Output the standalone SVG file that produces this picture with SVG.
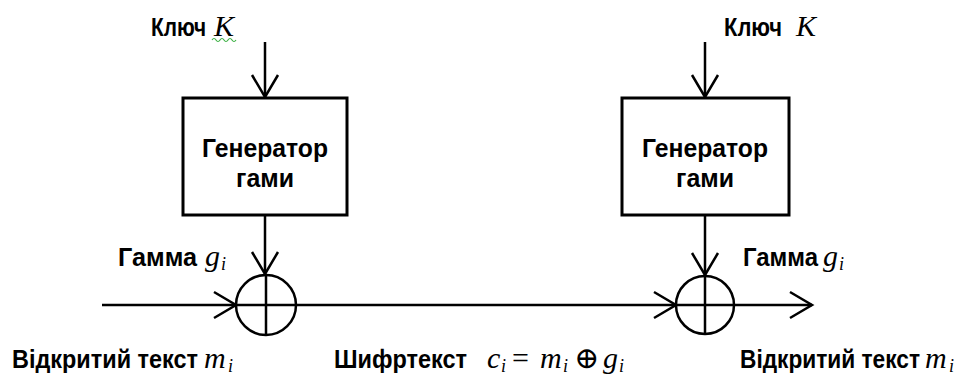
<svg xmlns="http://www.w3.org/2000/svg" width="977" height="380" viewBox="0 0 977 380">
  <defs>
    <style>
      .lbl { font-family: "Liberation Sans", Arial, sans-serif; font-weight: bold; font-size: 26px; fill: #000; }
      .math { font-family: "Liberation Serif", "Times New Roman", serif; font-style: italic; font-size: 30px; fill: #000; }
      .sub { font-family: "Liberation Serif", "Times New Roman", serif; font-style: italic; font-size: 18px; fill: #000; }
      .op { font-family: "Liberation Serif", "DejaVu Serif", serif; font-size: 30px; fill: #000; }
      .box { fill: #fff; stroke: #000; stroke-width: 3; }
      .xor { fill: #fff; stroke: #000; stroke-width: 2.5; }
      .wire { fill: none; stroke: #000; stroke-width: 2.5; }
    </style>
    <marker id="arrow" markerUnits="userSpaceOnUse" markerWidth="28" markerHeight="32" refX="24" refY="14" orient="auto" overflow="visible">
      <path d="M2,1 L24,14 L2,27" fill="none" stroke="#000" stroke-width="2.5" stroke-linejoin="miter"/>
    </marker>
  </defs>
  <rect width="977" height="380" fill="#fff"/>

  <!-- connectors -->
  <g id="connectors" class="wire">
    <line x1="265" y1="42" x2="265" y2="97" marker-end="url(#arrow)"/>
    <line x1="265" y1="215" x2="265" y2="274" marker-end="url(#arrow)"/>
    <line x1="705" y1="42" x2="705" y2="97" marker-end="url(#arrow)"/>
    <line x1="705" y1="215" x2="705" y2="275" marker-end="url(#arrow)"/>
    <line x1="102" y1="305" x2="236" y2="305" marker-end="url(#arrow)"/>
    <line x1="296" y1="305" x2="676" y2="305" marker-end="url(#arrow)"/>
    <line x1="734" y1="305" x2="812" y2="305" marker-end="url(#arrow)"/>
  </g>

  <!-- key labels -->
  <g id="key-left">
    <text class="lbl" x="151" y="36" textLength="55" lengthAdjust="spacingAndGlyphs">Ключ</text>
    <text class="math" x="214" y="36">K</text>
    <path d="M212,40 q2,-3 4,0 t4,0 t4,0 t4,0 t4,0 t4,0" fill="none" stroke="#3cb043" stroke-width="1.2"/>
  </g>
  <g id="key-right">
    <text class="lbl" x="724" y="36" textLength="58" lengthAdjust="spacingAndGlyphs">Ключ</text>
    <text class="math" x="796" y="36">K</text>
  </g>

  <!-- keystream generators -->
  <g id="generator-left">
    <rect class="box" x="183" y="98" width="164" height="117"/>
    <text class="lbl" x="265" y="157" text-anchor="middle" textLength="126" lengthAdjust="spacingAndGlyphs">Генератор</text>
    <text class="lbl" x="265" y="187" text-anchor="middle" textLength="58" lengthAdjust="spacingAndGlyphs">гами</text>
  </g>
  <g id="generator-right">
    <rect class="box" x="622" y="98" width="167" height="117"/>
    <text class="lbl" x="705" y="157" text-anchor="middle" textLength="126" lengthAdjust="spacingAndGlyphs">Генератор</text>
    <text class="lbl" x="705" y="187" text-anchor="middle" textLength="58" lengthAdjust="spacingAndGlyphs">гами</text>
  </g>

  <!-- XOR adders -->
  <g id="xor-left">
    <circle class="xor" cx="266" cy="305" r="30"/>
    <path class="wire" d="M236,305 H296 M266,275 V335"/>
  </g>
  <g id="xor-right">
    <circle class="xor" cx="705" cy="305" r="29"/>
    <path class="wire" d="M676,305 H734 M705,276 V334"/>
  </g>

  <!-- gamma labels -->
  <g id="gamma-left">
    <text class="lbl" x="118" y="266" textLength="79" lengthAdjust="spacingAndGlyphs">Гамма</text>
    <text class="math" x="205" y="266">g</text>
    <text class="sub" x="221" y="270">i</text>
  </g>
  <g id="gamma-right">
    <text class="lbl" x="743" y="266" textLength="75" lengthAdjust="spacingAndGlyphs">Гамма</text>
    <text class="math" x="823" y="266">g</text>
    <text class="sub" x="839" y="270">i</text>
  </g>

  <!-- plaintext / ciphertext labels -->
  <g id="plain-left">
    <text class="lbl" x="12" y="368" textLength="186" lengthAdjust="spacingAndGlyphs">Відкритий текст</text>
    <text class="math" x="204" y="368">m</text>
    <text class="sub" x="228" y="372">i</text>
  </g>
  <g id="cipher">
    <text class="lbl" x="334" y="368" textLength="133" lengthAdjust="spacingAndGlyphs">Шифртекст</text>
    <text class="math" x="487" y="368">c</text>
    <text class="sub" x="501" y="372">i</text>
    <text class="op" x="512" y="368">=</text>
    <text class="math" x="540" y="368">m</text>
    <text class="sub" x="563" y="372">i</text>
    <text class="op" x="574" y="368" font-size="24">⊕</text>
    <text class="math" x="603" y="368">g</text>
    <text class="sub" x="619" y="372">i</text>
  </g>
  <g id="plain-right">
    <text class="lbl" x="740" y="368" textLength="180" lengthAdjust="spacingAndGlyphs">Відкритий текст</text>
    <text class="math" x="925" y="368">m</text>
    <text class="sub" x="949" y="372">i</text>
  </g>
</svg>
